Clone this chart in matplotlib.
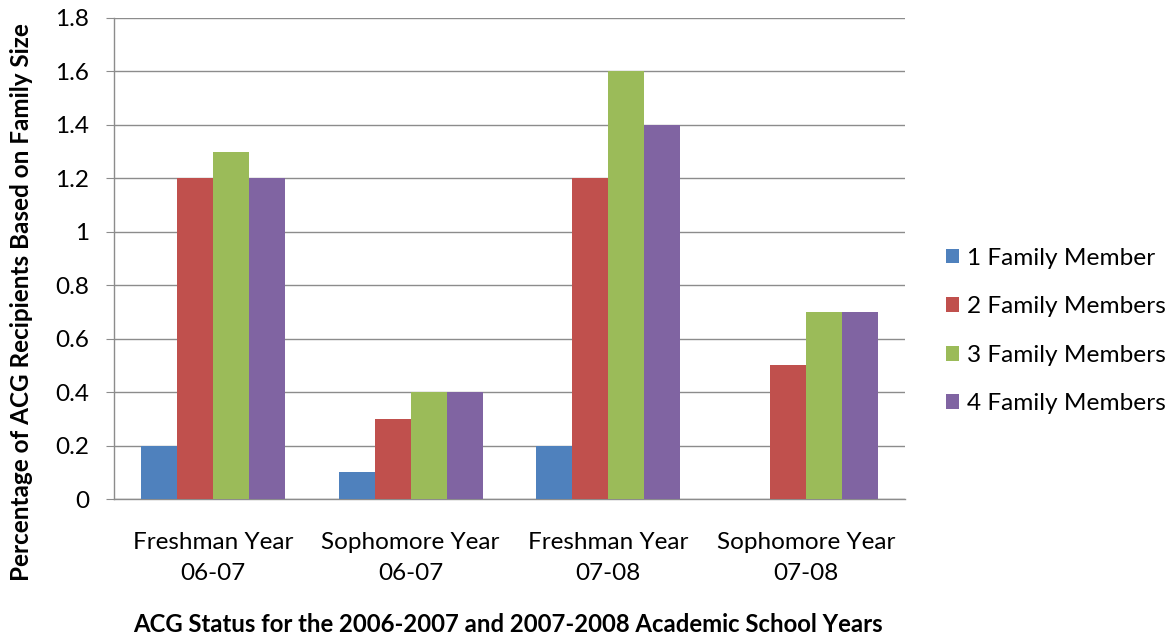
import matplotlib
matplotlib.use("Agg")
import matplotlib.pyplot as plt
import numpy as np

categories = ["Freshman Year\n06-07", "Sophomore Year\n06-07", "Freshman Year\n07-08", "Sophomore Year\n07-08"]
series_names = ["1 Family Member", "2 Family Members", "3 Family Members", "4 Family Members"]
one_member = [0.2, 0.1, 0.2, 0.0]
two_members = [1.2, 0.3, 1.2, 0.5]
three_members = [1.3, 0.4, 1.6, 0.7]
four_members = [1.2, 0.4, 1.4, 0.7]
colors = ["#4F81BD", "#C0504D", "#9BBB59", "#8064A2"]
y_ticks = [0, 0.2, 0.4, 0.6, 0.8, 1, 1.2, 1.4, 1.6, 1.8]
y_tick_labels = ["0", "0.2", "0.4", "0.6", "0.8", "1", "1.2", "1.4", "1.6", "1.8"]

plt.rcParams['font.family'] = ['Lato', 'DejaVu Sans']

W, H = 1176, 638
fig = plt.figure(figsize=(W / 100, H / 100), dpi=100)
ax = fig.add_axes([114 / W, 1 - 499 / H, (905 - 114) / W, (499 - 18) / H])

x = np.arange(len(categories))
width = 0.182
all_series = [one_member, two_members, three_members, four_members]
for i, (vals, name, c) in enumerate(zip(all_series, series_names, colors)):
    ax.bar(x + (i - 1.5) * width, vals, width, color=c, label=name, zorder=3)

ax.set_xlim(-0.5, len(categories) - 0.5)
ax.set_ylim(0, 1.8)
ax.set_yticks(y_ticks)
ax.set_yticklabels(y_tick_labels, fontsize=17.5)
ax.yaxis.grid(True, color="#8C8C8C", linewidth=1.0, zorder=0)
ax.set_axisbelow(True)

for side in ["top", "right"]:
    ax.spines[side].set_visible(False)
for side in ["left", "bottom"]:
    ax.spines[side].set_color("#8C8C8C")
    ax.spines[side].set_linewidth(1.0)
ax.tick_params(axis="y", length=6, color="#8C8C8C", pad=12)
ax.tick_params(axis="x", length=0, pad=24)
ax.set_xticks(x)
ax.set_xticklabels(categories, fontsize=17.5, linespacing=1.55)

# Axis titles placed in figure pixel coordinates
fig.text(22 / W, 1 - 302 / H, "Percentage of ACG Recipients Based on Family Size",
         rotation=90, ha="center", va="center", fontsize=17.5, fontweight="bold")
fig.text(508 / W, 1 - 625 / H,
         "ACG Status for the 2006-2007 and 2007-2008 Academic School Years",
         ha="center", va="center", fontsize=17.2, fontweight="bold")

handles, labels = ax.get_legend_handles_labels()
fig.legend(handles, labels, loc="center left", bbox_to_anchor=(946 / W, 1 - 331 / H),
           frameon=False, fontsize=17.6, handlelength=0.55, handleheight=0.55,
           handletextpad=0.3, labelspacing=1.13, borderpad=0, borderaxespad=0)

fig.savefig("out.png", dpi=100)
